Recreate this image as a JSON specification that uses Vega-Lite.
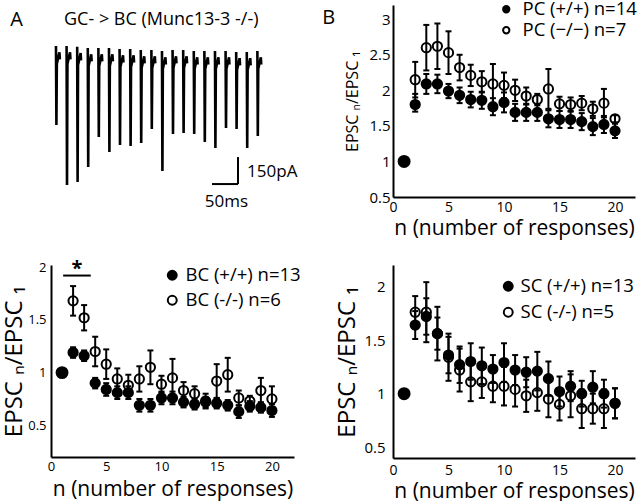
{
"$schema": "https://vega.github.io/schema/vega-lite/v6.json",
"autosize": {"type": "pad"},
"padding": {"left": 2, "top": 0, "right": 0, "bottom": 0},
"background": "white",
"datasets": {
"trace": [
{"s":1,"x":9.4,"y":0},{"s":1,"x":10.2,"y":-439},{"s":1,"x":11.0,"y":-100},{"s":1,"x":15.9,"y":-35},{"s":1,"x":16.7,"y":-75},
{"s":2,"x":29.4,"y":0},{"s":2,"x":30.2,"y":-772},{"s":2,"x":31.0,"y":-100},{"s":2,"x":35.9,"y":-35},{"s":2,"x":36.7,"y":-75},
{"s":3,"x":49.4,"y":-5},{"s":3,"x":50.2,"y":-756},{"s":3,"x":51.0,"y":-105},{"s":3,"x":55.9,"y":-40},{"s":3,"x":56.7,"y":-80},
{"s":4,"x":69.4,"y":-11},{"s":4,"x":70.2,"y":-672},{"s":4,"x":71.0,"y":-111},{"s":4,"x":75.9,"y":-46},{"s":4,"x":76.7,"y":-86},
{"s":5,"x":89.4,"y":-11},{"s":5,"x":90.2,"y":-506},{"s":5,"x":91.0,"y":-111},{"s":5,"x":95.9,"y":-46},{"s":5,"x":96.7,"y":-86},
{"s":6,"x":109.4,"y":-11},{"s":6,"x":110.2,"y":-589},{"s":6,"x":111.0,"y":-111},{"s":6,"x":115.9,"y":-46},{"s":6,"x":116.7,"y":-86},
{"s":7,"x":129.4,"y":-17},{"s":7,"x":130.2,"y":-550},{"s":7,"x":131.0,"y":-117},{"s":7,"x":135.9,"y":-52},{"s":7,"x":136.7,"y":-92},
{"s":8,"x":149.4,"y":-17},{"s":8,"x":150.2,"y":-556},{"s":8,"x":151.0,"y":-117},{"s":8,"x":155.9,"y":-52},{"s":8,"x":156.7,"y":-92},
{"s":9,"x":169.4,"y":-22},{"s":9,"x":170.2,"y":-539},{"s":9,"x":171.0,"y":-122},{"s":9,"x":175.9,"y":-57},{"s":9,"x":176.7,"y":-97},
{"s":10,"x":189.4,"y":-22},{"s":10,"x":190.2,"y":-461},{"s":10,"x":191.0,"y":-122},{"s":10,"x":195.9,"y":-57},{"s":10,"x":196.7,"y":-97},
{"s":11,"x":209.4,"y":-28},{"s":11,"x":210.2,"y":-694},{"s":11,"x":211.0,"y":-128},{"s":11,"x":215.9,"y":-63},{"s":11,"x":216.7,"y":-103},
{"s":12,"x":229.4,"y":-22},{"s":12,"x":230.2,"y":-489},{"s":12,"x":231.0,"y":-122},{"s":12,"x":235.9,"y":-57},{"s":12,"x":236.7,"y":-97},
{"s":13,"x":249.4,"y":-22},{"s":13,"x":250.2,"y":-483},{"s":13,"x":251.0,"y":-122},{"s":13,"x":255.9,"y":-57},{"s":13,"x":256.7,"y":-97},
{"s":14,"x":269.4,"y":-28},{"s":14,"x":270.2,"y":-489},{"s":14,"x":271.0,"y":-128},{"s":14,"x":275.9,"y":-63},{"s":14,"x":276.7,"y":-103},
{"s":15,"x":289.4,"y":-28},{"s":15,"x":290.2,"y":-533},{"s":15,"x":291.0,"y":-128},{"s":15,"x":295.9,"y":-63},{"s":15,"x":296.7,"y":-103},
{"s":16,"x":309.4,"y":-28},{"s":16,"x":310.2,"y":-567},{"s":16,"x":311.0,"y":-128},{"s":16,"x":315.9,"y":-63},{"s":16,"x":316.7,"y":-103},
{"s":17,"x":329.4,"y":-28},{"s":17,"x":330.2,"y":-456},{"s":17,"x":331.0,"y":-128},{"s":17,"x":335.9,"y":-63},{"s":17,"x":336.7,"y":-103},
{"s":18,"x":349.4,"y":-33},{"s":18,"x":350.2,"y":-461},{"s":18,"x":351.0,"y":-133},{"s":18,"x":355.9,"y":-68},{"s":18,"x":356.7,"y":-108},
{"s":19,"x":369.4,"y":-33},{"s":19,"x":370.2,"y":-567},{"s":19,"x":371.0,"y":-133},{"s":19,"x":375.9,"y":-68},{"s":19,"x":376.7,"y":-108},
{"s":20,"x":389.4,"y":-28},{"s":20,"x":390.2,"y":-500},{"s":20,"x":391.0,"y":-128},{"s":20,"x":395.9,"y":-63},{"s":20,"x":396.7,"y":-103}
],
"bc": [
{"lab":"BC (+/+) n=13","n":1,"m":1.00,"lo":1.00,"hi":1.00},
{"lab":"BC (+/+) n=13","n":2,"m":1.19,"lo":1.14,"hi":1.24},
{"lab":"BC (+/+) n=13","n":3,"m":1.16,"lo":1.11,"hi":1.21},
{"lab":"BC (+/+) n=13","n":4,"m":0.90,"lo":0.85,"hi":0.95},
{"lab":"BC (+/+) n=13","n":5,"m":0.84,"lo":0.78,"hi":0.90},
{"lab":"BC (+/+) n=13","n":6,"m":0.81,"lo":0.75,"hi":0.87},
{"lab":"BC (+/+) n=13","n":7,"m":0.81,"lo":0.75,"hi":0.87},
{"lab":"BC (+/+) n=13","n":8,"m":0.69,"lo":0.63,"hi":0.75},
{"lab":"BC (+/+) n=13","n":9,"m":0.69,"lo":0.63,"hi":0.75},
{"lab":"BC (+/+) n=13","n":10,"m":0.76,"lo":0.70,"hi":0.82},
{"lab":"BC (+/+) n=13","n":11,"m":0.76,"lo":0.70,"hi":0.82},
{"lab":"BC (+/+) n=13","n":12,"m":0.72,"lo":0.67,"hi":0.77},
{"lab":"BC (+/+) n=13","n":13,"m":0.70,"lo":0.65,"hi":0.75},
{"lab":"BC (+/+) n=13","n":14,"m":0.72,"lo":0.67,"hi":0.77},
{"lab":"BC (+/+) n=13","n":15,"m":0.71,"lo":0.66,"hi":0.76},
{"lab":"BC (+/+) n=13","n":16,"m":0.69,"lo":0.64,"hi":0.74},
{"lab":"BC (+/+) n=13","n":17,"m":0.63,"lo":0.57,"hi":0.69},
{"lab":"BC (+/+) n=13","n":18,"m":0.68,"lo":0.63,"hi":0.73},
{"lab":"BC (+/+) n=13","n":19,"m":0.67,"lo":0.62,"hi":0.72},
{"lab":"BC (+/+) n=13","n":20,"m":0.64,"lo":0.58,"hi":0.70},
{"lab":"BC (-/-) n=6","n":2,"m":1.68,"lo":1.54,"hi":1.82},
{"lab":"BC (-/-) n=6","n":3,"m":1.52,"lo":1.40,"hi":1.64},
{"lab":"BC (-/-) n=6","n":4,"m":1.20,"lo":1.06,"hi":1.34},
{"lab":"BC (-/-) n=6","n":5,"m":1.08,"lo":0.94,"hi":1.22},
{"lab":"BC (-/-) n=6","n":6,"m":0.94,"lo":0.84,"hi":1.04},
{"lab":"BC (-/-) n=6","n":7,"m":0.88,"lo":0.78,"hi":0.98},
{"lab":"BC (-/-) n=6","n":8,"m":0.94,"lo":0.82,"hi":1.06},
{"lab":"BC (-/-) n=6","n":9,"m":1.05,"lo":0.89,"hi":1.21},
{"lab":"BC (-/-) n=6","n":10,"m":0.89,"lo":0.81,"hi":0.97},
{"lab":"BC (-/-) n=6","n":11,"m":0.95,"lo":0.77,"hi":1.13},
{"lab":"BC (-/-) n=6","n":12,"m":0.83,"lo":0.75,"hi":0.91},
{"lab":"BC (-/-) n=6","n":13,"m":0.80,"lo":0.73,"hi":0.87},
{"lab":"BC (-/-) n=6","n":14,"m":0.73,"lo":0.66,"hi":0.80},
{"lab":"BC (-/-) n=6","n":15,"m":0.92,"lo":0.76,"hi":1.08},
{"lab":"BC (-/-) n=6","n":16,"m":0.98,"lo":0.82,"hi":1.14},
{"lab":"BC (-/-) n=6","n":17,"m":0.76,"lo":0.69,"hi":0.83},
{"lab":"BC (-/-) n=6","n":18,"m":0.73,"lo":0.68,"hi":0.78},
{"lab":"BC (-/-) n=6","n":19,"m":0.83,"lo":0.71,"hi":0.95},
{"lab":"BC (-/-) n=6","n":20,"m":0.75,"lo":0.63,"hi":0.87}
],
"pc": [
{"lab":"PC (+/+) n=14","n":1,"m":1.00,"lo":1.00,"hi":1.00},
{"lab":"PC (+/+) n=14","n":2,"m":1.80,"lo":1.70,"hi":1.95},
{"lab":"PC (+/+) n=14","n":3,"m":2.09,"lo":1.95,"hi":2.23},
{"lab":"PC (+/+) n=14","n":4,"m":2.09,"lo":1.96,"hi":2.22},
{"lab":"PC (+/+) n=14","n":5,"m":1.99,"lo":1.89,"hi":2.09},
{"lab":"PC (+/+) n=14","n":6,"m":1.93,"lo":1.82,"hi":2.04},
{"lab":"PC (+/+) n=14","n":7,"m":1.87,"lo":1.76,"hi":1.98},
{"lab":"PC (+/+) n=14","n":8,"m":1.86,"lo":1.74,"hi":1.98},
{"lab":"PC (+/+) n=14","n":9,"m":1.77,"lo":1.65,"hi":1.89},
{"lab":"PC (+/+) n=14","n":10,"m":1.83,"lo":1.69,"hi":1.97},
{"lab":"PC (+/+) n=14","n":11,"m":1.69,"lo":1.57,"hi":1.81},
{"lab":"PC (+/+) n=14","n":12,"m":1.69,"lo":1.57,"hi":1.81},
{"lab":"PC (+/+) n=14","n":13,"m":1.69,"lo":1.57,"hi":1.81},
{"lab":"PC (+/+) n=14","n":14,"m":1.60,"lo":1.48,"hi":1.72},
{"lab":"PC (+/+) n=14","n":15,"m":1.59,"lo":1.47,"hi":1.71},
{"lab":"PC (+/+) n=14","n":16,"m":1.59,"lo":1.47,"hi":1.71},
{"lab":"PC (+/+) n=14","n":17,"m":1.56,"lo":1.44,"hi":1.68},
{"lab":"PC (+/+) n=14","n":18,"m":1.49,"lo":1.37,"hi":1.61},
{"lab":"PC (+/+) n=14","n":19,"m":1.52,"lo":1.40,"hi":1.64},
{"lab":"PC (+/+) n=14","n":20,"m":1.43,"lo":1.33,"hi":1.53},
{"lab":"PC (−/−) n=7","n":2,"m":2.15,"lo":1.90,"hi":2.40},
{"lab":"PC (−/−) n=7","n":3,"m":2.60,"lo":2.28,"hi":2.92},
{"lab":"PC (−/−) n=7","n":4,"m":2.62,"lo":2.30,"hi":2.94},
{"lab":"PC (−/−) n=7","n":5,"m":2.53,"lo":2.23,"hi":2.83},
{"lab":"PC (−/−) n=7","n":6,"m":2.32,"lo":2.14,"hi":2.50},
{"lab":"PC (−/−) n=7","n":7,"m":2.21,"lo":2.06,"hi":2.36},
{"lab":"PC (−/−) n=7","n":8,"m":2.12,"lo":1.97,"hi":2.27},
{"lab":"PC (−/−) n=7","n":9,"m":2.09,"lo":1.81,"hi":2.37},
{"lab":"PC (−/−) n=7","n":10,"m":2.07,"lo":1.89,"hi":2.25},
{"lab":"PC (−/−) n=7","n":11,"m":2.00,"lo":1.85,"hi":2.15},
{"lab":"PC (−/−) n=7","n":12,"m":1.92,"lo":1.80,"hi":2.04},
{"lab":"PC (−/−) n=7","n":13,"m":1.87,"lo":1.79,"hi":1.95},
{"lab":"PC (−/−) n=7","n":14,"m":2.02,"lo":1.74,"hi":2.30},
{"lab":"PC (−/−) n=7","n":15,"m":1.81,"lo":1.71,"hi":1.91},
{"lab":"PC (−/−) n=7","n":16,"m":1.80,"lo":1.70,"hi":1.90},
{"lab":"PC (−/−) n=7","n":17,"m":1.82,"lo":1.72,"hi":1.92},
{"lab":"PC (−/−) n=7","n":18,"m":1.74,"lo":1.64,"hi":1.84},
{"lab":"PC (−/−) n=7","n":19,"m":1.82,"lo":1.62,"hi":2.02},
{"lab":"PC (−/−) n=7","n":20,"m":1.60,"lo":1.55,"hi":1.65}
],
"sc": [
{"lab":"SC (+/+) n=13","n":1,"m":1.00,"lo":1.00,"hi":1.00},
{"lab":"SC (+/+) n=13","n":2,"m":1.64,"lo":1.51,"hi":1.77},
{"lab":"SC (+/+) n=13","n":3,"m":1.72,"lo":1.55,"hi":1.89},
{"lab":"SC (+/+) n=13","n":4,"m":1.56,"lo":1.31,"hi":1.81},
{"lab":"SC (+/+) n=13","n":5,"m":1.36,"lo":1.19,"hi":1.53},
{"lab":"SC (+/+) n=13","n":6,"m":1.27,"lo":1.10,"hi":1.44},
{"lab":"SC (+/+) n=13","n":7,"m":1.30,"lo":1.13,"hi":1.47},
{"lab":"SC (+/+) n=13","n":8,"m":1.26,"lo":1.09,"hi":1.43},
{"lab":"SC (+/+) n=13","n":9,"m":1.23,"lo":1.10,"hi":1.36},
{"lab":"SC (+/+) n=13","n":10,"m":1.29,"lo":1.11,"hi":1.47},
{"lab":"SC (+/+) n=13","n":11,"m":1.22,"lo":1.08,"hi":1.36},
{"lab":"SC (+/+) n=13","n":12,"m":1.20,"lo":1.06,"hi":1.34},
{"lab":"SC (+/+) n=13","n":13,"m":1.21,"lo":1.03,"hi":1.39},
{"lab":"SC (+/+) n=13","n":14,"m":1.14,"lo":0.98,"hi":1.30},
{"lab":"SC (+/+) n=13","n":15,"m":1.02,"lo":0.88,"hi":1.16},
{"lab":"SC (+/+) n=13","n":16,"m":1.07,"lo":0.93,"hi":1.21},
{"lab":"SC (+/+) n=13","n":17,"m":1.00,"lo":0.88,"hi":1.12},
{"lab":"SC (+/+) n=13","n":18,"m":1.06,"lo":0.91,"hi":1.21},
{"lab":"SC (+/+) n=13","n":19,"m":1.00,"lo":0.87,"hi":1.13},
{"lab":"SC (+/+) n=13","n":20,"m":0.91,"lo":0.77,"hi":1.05},
{"lab":"SC (-/-) n=5","n":2,"m":1.76,"lo":1.61,"hi":1.91},
{"lab":"SC (-/-) n=5","n":3,"m":1.76,"lo":1.48,"hi":2.04},
{"lab":"SC (-/-) n=5","n":4,"m":1.56,"lo":1.41,"hi":1.71},
{"lab":"SC (-/-) n=5","n":5,"m":1.34,"lo":1.12,"hi":1.56},
{"lab":"SC (-/-) n=5","n":6,"m":1.22,"lo":1.02,"hi":1.42},
{"lab":"SC (-/-) n=5","n":7,"m":1.11,"lo":0.93,"hi":1.29},
{"lab":"SC (-/-) n=5","n":8,"m":1.11,"lo":0.96,"hi":1.26},
{"lab":"SC (-/-) n=5","n":9,"m":1.07,"lo":0.92,"hi":1.22},
{"lab":"SC (-/-) n=5","n":10,"m":1.07,"lo":0.89,"hi":1.25},
{"lab":"SC (-/-) n=5","n":11,"m":1.04,"lo":0.88,"hi":1.20},
{"lab":"SC (-/-) n=5","n":12,"m":0.98,"lo":0.83,"hi":1.13},
{"lab":"SC (-/-) n=5","n":13,"m":1.01,"lo":0.84,"hi":1.18},
{"lab":"SC (-/-) n=5","n":14,"m":0.95,"lo":0.78,"hi":1.12},
{"lab":"SC (-/-) n=5","n":15,"m":0.90,"lo":0.75,"hi":1.05},
{"lab":"SC (-/-) n=5","n":16,"m":0.98,"lo":0.78,"hi":1.18},
{"lab":"SC (-/-) n=5","n":17,"m":0.86,"lo":0.68,"hi":1.04},
{"lab":"SC (-/-) n=5","n":18,"m":0.86,"lo":0.72,"hi":1.00},
{"lab":"SC (-/-) n=5","n":19,"m":0.86,"lo":0.68,"hi":1.04},
{"lab":"SC (-/-) n=5","n":20,"m":0.91,"lo":0.77,"hi":1.05}
]
},
"columns": 2,
"spacing": {"row": 66, "column": 99},
"bounds": "flush",
"resolve": {"scale": {"fill": "independent"}, "legend": {"fill": "independent"}},
"concat": [
{"width": 243, "height": 194,
 "layer": [
  {"data": {"name": "trace"},
   "mark": {"type": "line", "color": "black", "strokeWidth": 2.6, "strokeJoin": "bevel"},
   "encoding": {
    "x": {"field": "x", "type": "quantitative", "scale": {"domain": [0, 458.5], "nice": false, "zero": false}, "axis": null},
    "y": {"field": "y", "type": "quantitative", "scale": {"domain": [-850, 227.4], "nice": false, "zero": false}, "axis": null},
    "detail": {"field": "s", "type": "nominal"}}},
  {"data": {"values": [{"x": 303.8, "y": -767, "x2": 352.8, "y2": -767}, {"x": 352.8, "y": -767, "x2": 352.8, "y2": -617}]},
   "mark": {"type": "rule", "color": "black", "strokeWidth": 2},
   "encoding": {"x": {"field": "x", "type": "quantitative"}, "y": {"field": "y", "type": "quantitative"}, "x2": {"field": "x2"}, "y2": {"field": "y2"}}},
  {"data": {"values": [{"x": 370, "y": -700, "t": "150pA"}]},
   "mark": {"type": "text", "align": "left", "baseline": "middle", "fontSize": 17},
   "encoding": {"x": {"field": "x", "type": "quantitative"}, "y": {"field": "y", "type": "quantitative"}, "text": {"field": "t"}}},
  {"data": {"values": [{"x": 331, "y": -867, "t": "50ms"}]},
   "mark": {"type": "text", "align": "center", "baseline": "middle", "fontSize": 17},
   "encoding": {"x": {"field": "x", "type": "quantitative"}, "y": {"field": "y", "type": "quantitative"}, "text": {"field": "t"}}},
  {"data": {"values": [{"x": 24.5, "y": 144, "t": "GC- > BC (Munc13-3 -/-)"}]},
   "mark": {"type": "text", "align": "left", "baseline": "middle", "fontSize": 18},
   "encoding": {"x": {"field": "x", "type": "quantitative"}, "y": {"field": "y", "type": "quantitative"}, "text": {"field": "t"}}},
  {"data": {"values": [{"x": -65, "y": 144, "t": "A"}]},
   "mark": {"type": "text", "align": "center", "baseline": "middle", "fontSize": 20},
   "encoding": {"x": {"field": "x", "type": "quantitative"}, "y": {"field": "y", "type": "quantitative"}, "text": {"field": "t"}}}
 ]},
{"width": 242, "height": 192,
 "data": {"name": "pc"},
 "layer": [
  {"transform": [{"filter": "datum.n > 1"}],
   "mark": {"type": "rule", "color": "black", "strokeWidth": 2},
   "encoding": {
    "x": {"field": "n", "type": "quantitative", "scale": {"domain": [0, 21.8], "nice": false, "zero": false},
          "axis": {"values": [0, 5, 10, 15, 20], "tickCount": 10, "title": "n (number of responses)", "titleFontSize": 21, "labelPadding": 3, "titlePadding": 3, "labelFontSize": 14, "labelOverlap": false}},
    "y": {"field": "lo", "type": "quantitative", "scale": {"domain": [0.5, 3.2], "nice": false, "zero": false},
          "axis": {"values": [0.5, 1, 1.5, 2, 2.5, 3], "tickCount": 10, "format": "~g", "title": "EPSC  ₙ/EPSC  ₁", "titleFontSize": 16, "titlePadding": 8, "labelFontSize": 15, "labelPadding": 3, "labelOverlap": false}},
    "y2": {"field": "hi"}}},
  {"transform": [{"filter": "datum.n > 1"}],
   "mark": {"type": "tick", "orient": "horizontal", "size": 6, "thickness": 2, "color": "black", "opacity": 1},
   "encoding": {"x": {"field": "n", "type": "quantitative"}, "y": {"field": "lo", "type": "quantitative"}}},
  {"transform": [{"filter": "datum.n > 1"}],
   "mark": {"type": "tick", "orient": "horizontal", "size": 6, "thickness": 2, "color": "black", "opacity": 1},
   "encoding": {"x": {"field": "n", "type": "quantitative"}, "y": {"field": "hi", "type": "quantitative"}}},
  {"transform": [{"filter": "datum.n > 1"}],
   "mark": {"type": "point", "shape": "circle", "filled": true, "stroke": "black", "strokeWidth": 2, "size": 85, "opacity": 1},
   "encoding": {"x": {"field": "n", "type": "quantitative"}, "y": {"field": "m", "type": "quantitative"},
    "fill": {"field": "lab", "type": "nominal", "scale": {"domain": ["PC (+/+) n=14", "PC (−/−) n=7"], "range": ["black", "transparent"]},
             "legend": {"orient": "none", "legendX": 104, "legendY": -5, "rowPadding": 2, "symbolSize": 40, "labelOffset": 7}}}},
  {"transform": [{"filter": "datum.n == 1"}],
   "mark": {"type": "point", "shape": "circle", "filled": true, "fill": "black", "stroke": "black", "strokeWidth": 2, "size": 120, "opacity": 1},
   "encoding": {"x": {"field": "n", "type": "quantitative"}, "y": {"field": "m", "type": "quantitative"}}},
  {"data": {"values": [{"n": -5.8, "m": 3.02, "t": "B"}]},
   "mark": {"type": "text", "align": "center", "baseline": "middle", "fontSize": 20},
   "encoding": {"x": {"field": "n", "type": "quantitative"}, "y": {"field": "m", "type": "quantitative"}, "text": {"field": "t"}}}
 ]},
{"width": 243, "height": 192,
 "data": {"name": "bc"},
 "layer": [
  {"transform": [{"filter": "datum.n > 1"}],
   "mark": {"type": "rule", "color": "black", "strokeWidth": 2},
   "encoding": {
    "x": {"field": "n", "type": "quantitative", "scale": {"domain": [0, 22], "nice": false, "zero": false},
          "axis": {"values": [0, 5, 10, 15, 20], "tickCount": 10, "title": "n (number of responses)", "titleFontSize": 21, "labelPadding": 3, "titlePadding": 5, "labelFontSize": 13, "labelOverlap": false}},
    "y": {"field": "lo", "type": "quantitative", "scale": {"domain": [0.2, 2.02], "nice": false, "zero": false},
          "axis": {"values": [0.5, 1, 1.5, 2], "tickCount": 10, "format": "~g", "title": "EPSC  ₙ/EPSC  ₁", "titleFontSize": 24, "titlePadding": 1, "labelFontSize": 13, "labelOverlap": false}},
    "y2": {"field": "hi"}}},
  {"transform": [{"filter": "datum.n > 1"}],
   "mark": {"type": "tick", "orient": "horizontal", "size": 6, "thickness": 2, "color": "black", "opacity": 1},
   "encoding": {"x": {"field": "n", "type": "quantitative"}, "y": {"field": "lo", "type": "quantitative"}}},
  {"transform": [{"filter": "datum.n > 1"}],
   "mark": {"type": "tick", "orient": "horizontal", "size": 6, "thickness": 2, "color": "black", "opacity": 1},
   "encoding": {"x": {"field": "n", "type": "quantitative"}, "y": {"field": "hi", "type": "quantitative"}}},
  {"transform": [{"filter": "datum.n > 1"}],
   "mark": {"type": "point", "shape": "circle", "filled": true, "stroke": "black", "strokeWidth": 2, "size": 85, "opacity": 1},
   "encoding": {"x": {"field": "n", "type": "quantitative"}, "y": {"field": "m", "type": "quantitative"},
    "fill": {"field": "lab", "type": "nominal", "scale": {"domain": ["BC (+/+) n=13", "BC (-/-) n=6"], "range": ["black", "transparent"]},
             "legend": {"orient": "none", "legendX": 112, "legendY": 1, "rowPadding": 6}}}},
  {"transform": [{"filter": "datum.n == 1"}],
   "mark": {"type": "point", "shape": "circle", "filled": true, "fill": "black", "stroke": "black", "strokeWidth": 2, "size": 120, "opacity": 1},
   "encoding": {"x": {"field": "n", "type": "quantitative"}, "y": {"field": "m", "type": "quantitative"}}},
  {"data": {"values": [{"n": 1.1, "n2": 3.6, "m": 1.92}]},
   "mark": {"type": "rule", "color": "black", "strokeWidth": 2},
   "encoding": {"x": {"field": "n", "type": "quantitative"}, "x2": {"field": "n2"}, "y": {"field": "m", "type": "quantitative"}}},
  {"data": {"values": [{"n": 2.35, "m": 1.985, "t": "*"}]},
   "mark": {"type": "text", "align": "center", "baseline": "middle", "fontSize": 20, "fontWeight": "bold"},
   "encoding": {"x": {"field": "n", "type": "quantitative"}, "y": {"field": "m", "type": "quantitative"}, "text": {"field": "t"}}}
 ]},
{"width": 242, "height": 193,
 "data": {"name": "sc"},
 "layer": [
  {"transform": [{"filter": "datum.n > 1"}],
   "mark": {"type": "rule", "color": "black", "strokeWidth": 2},
   "encoding": {
    "x": {"field": "n", "type": "quantitative", "scale": {"domain": [0, 21.8], "nice": false, "zero": false},
          "axis": {"values": [0, 5, 10, 15, 20], "tickCount": 10, "title": "n (number of responses)", "titleFontSize": 21, "labelPadding": 5, "titlePadding": 3, "labelFontSize": 14, "labelOverlap": false}},
    "y": {"field": "lo", "type": "quantitative", "scale": {"domain": [0.4, 2.2], "nice": false, "zero": false},
          "axis": {"values": [0.5, 1, 1.5, 2], "tickCount": 10, "format": "~g", "title": "EPSC  ₙ/EPSC  ₁", "titleFontSize": 24, "titlePadding": 4, "labelFontSize": 15, "labelPadding": 8, "labelOverlap": false}},
    "y2": {"field": "hi"}}},
  {"transform": [{"filter": "datum.n > 1"}],
   "mark": {"type": "tick", "orient": "horizontal", "size": 6, "thickness": 2, "color": "black", "opacity": 1},
   "encoding": {"x": {"field": "n", "type": "quantitative"}, "y": {"field": "lo", "type": "quantitative"}}},
  {"transform": [{"filter": "datum.n > 1"}],
   "mark": {"type": "tick", "orient": "horizontal", "size": 6, "thickness": 2, "color": "black", "opacity": 1},
   "encoding": {"x": {"field": "n", "type": "quantitative"}, "y": {"field": "hi", "type": "quantitative"}}},
  {"transform": [{"filter": "datum.n > 1"}],
   "mark": {"type": "point", "shape": "circle", "filled": true, "stroke": "black", "strokeWidth": 2, "size": 85, "opacity": 1},
   "encoding": {"x": {"field": "n", "type": "quantitative"}, "y": {"field": "m", "type": "quantitative"},
    "fill": {"field": "lab", "type": "nominal", "scale": {"domain": ["SC (+/+) n=13", "SC (-/-) n=5"], "range": ["black", "transparent"]},
             "legend": {"orient": "none", "legendX": 106, "legendY": 12, "rowPadding": 7, "labelOffset": 3}}}},
  {"transform": [{"filter": "datum.n == 1"}],
   "mark": {"type": "point", "shape": "circle", "filled": true, "fill": "black", "stroke": "black", "strokeWidth": 2, "size": 120, "opacity": 1},
   "encoding": {"x": {"field": "n", "type": "quantitative"}, "y": {"field": "m", "type": "quantitative"}}}
 ]}
],
"config": {
 "view": {"stroke": null},
 "font": "Open Sans",
 "axis": {"domainColor": "black", "domainWidth": 2, "grid": false, "ticks": false, "labelColor": "black", "titleColor": "black",
          "labelFont": "Open Sans", "titleFont": "Open Sans", "titleFontWeight": "normal", "labelFlush": false, "labelOverlap": false, "labelPadding": 5},
 "legend": {"title": null, "labelFontSize": 18.5, "labelFont": "Open Sans", "labelColor": "black", "symbolType": "circle",
            "symbolSize": 80, "symbolStrokeColor": "black", "symbolStrokeWidth": 2, "labelOffset": 4, "padding": 0},
 "text": {"font": "Open Sans", "color": "black"}
}
}
